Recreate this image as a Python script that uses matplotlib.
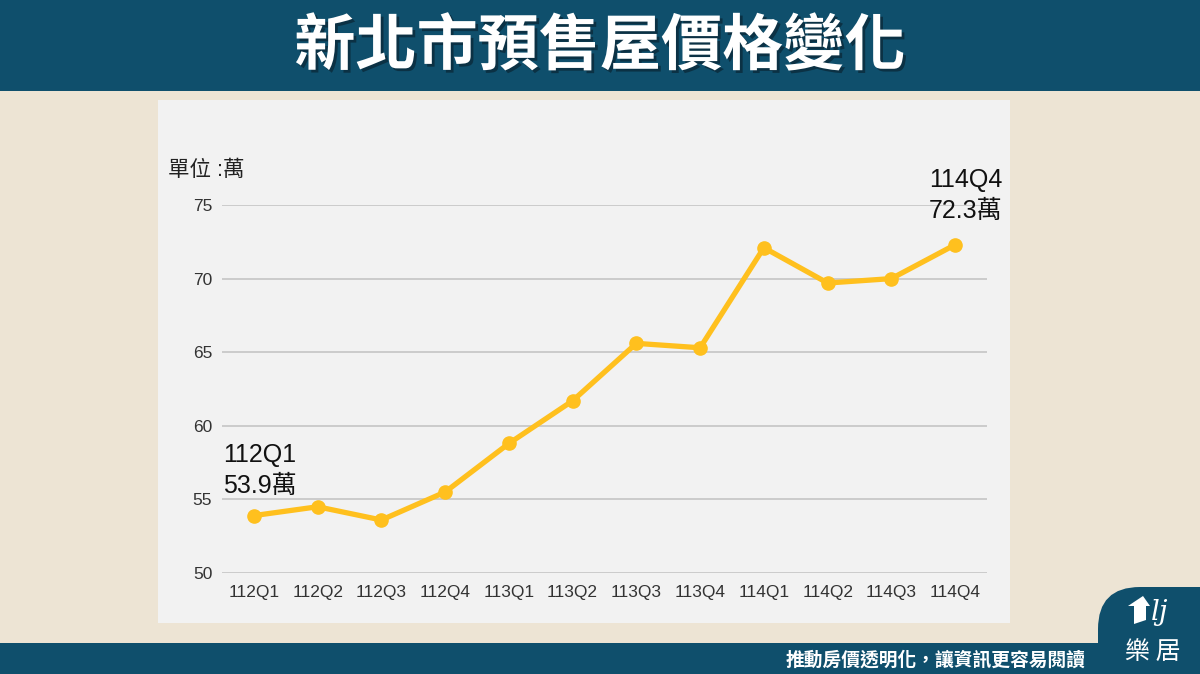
import numpy as np
import matplotlib.pyplot as plt
import matplotlib.patheffects as pe
from matplotlib.patches import Rectangle, FancyBboxPatch, Polygon

plt.rcParams['font.family'] = ['Liberation Sans', 'Noto Sans CJK TC', 'DejaVu Sans']

quarters = ['112Q1', '112Q2', '112Q3', '112Q4', '113Q1', '113Q2',
            '113Q3', '113Q4', '114Q1', '114Q2', '114Q3', '114Q4']
prices = [53.9, 54.5, 53.6, 55.5, 58.8, 61.7, 65.6, 65.3, 72.1, 69.7, 70.0, 72.3]
yticks = [50, 55, 60, 65, 70, 75]

title = '新北市預售屋價格變化'
unit_label = '單位 :萬'
slogan = '推動房價透明化，讓資訊更容易閱讀'

navy = '#0f4f6c'
beige = '#ede4d4'
panel = '#f2f2f2'
gold = '#ffc01e'

fig = plt.figure(figsize=(12, 6.74), dpi=100)
fig.patch.set_facecolor(beige)

# background layer in pixel coordinates
bg = fig.add_axes([0, 0, 1, 1])
bg.set_xlim(0, 1200)
bg.set_ylim(674, 0)
bg.axis('off')
bg.add_patch(Rectangle((0, 0), 1200, 91, color=navy, lw=0))
bg.add_patch(Rectangle((158, 100), 852, 523, color=panel, lw=0))
bg.add_patch(Rectangle((0, 643), 1200, 31, color=navy, lw=0))
bg.add_patch(FancyBboxPatch((1098, 587), 160, 100, boxstyle='round,pad=0,rounding_size=42',
                            color=navy, lw=0))
bg.text(600, 47, title, color='white', fontsize=44, fontweight='bold',
        family=['Noto Sans CJK TC'], ha='center', va='center',
        path_effects=[pe.withSimplePatchShadow(offset=(2, -2), shadow_rgbFace='#0a2a3a', alpha=0.8)])
bg.text(1086, 660, slogan, color='white', fontsize=13.5, fontweight='bold',
        family=['Noto Sans CJK TC'], ha='right', va='center')
bg.text(1153, 652, '樂 居', color='white', fontsize=18, family=['Noto Sans CJK TC'],
        ha='center', va='center')
bg.add_patch(Polygon([[1128, 606], [1143, 596], [1150, 606], [1146, 606], [1146, 620],
                      [1134, 624], [1134, 606]], color='white', lw=0))
bg.text(1160, 612, 'lj', color='white', fontsize=20, style='italic',
        family=['DejaVu Serif'], ha='center', va='center')
bg.text(168, 170, unit_label, color='#222222', fontsize=15.5, ha='left', va='center')

# chart
ax = fig.add_axes([222 / 1200, (674 - 573) / 674, (987 - 222) / 1200, (573 - 205) / 674])
ax.set_facecolor(panel)
x = np.arange(len(quarters))
ax.plot(x, prices, color=gold, lw=3.8, marker='o', markersize=9.5, clip_on=False, zorder=3)
ax.set_xlim(-0.5, len(quarters) - 0.5)
ax.set_ylim(50, 75)
ax.set_yticks(yticks)
ax.set_xticks(x)
ax.set_xticklabels(quarters)
ax.grid(axis='y', color='#c8c8c8', lw=1.3)
ax.set_axisbelow(True)
for s in ax.spines.values():
    s.set_visible(False)
ax.tick_params(length=0, labelsize=12.5, labelcolor='#333333')
ax.tick_params(axis='x', pad=9)
ax.tick_params(axis='y', pad=7)

ax.annotate(f'{quarters[0]}\n{prices[0]}萬', xy=(0, prices[0]), xytext=(-31, 18),
            textcoords='offset pixels', ha='left', va='bottom', fontsize=18,
            color='#111111', linespacing=1.35)
ax.annotate(f'{quarters[-1]}\n{prices[-1]}萬', xy=(11, prices[-1]), xytext=(47, 22),
            textcoords='offset pixels', ha='right', va='bottom', fontsize=18,
            color='#111111', linespacing=1.35)

fig.savefig('out.png', dpi=100, facecolor=fig.get_facecolor())
